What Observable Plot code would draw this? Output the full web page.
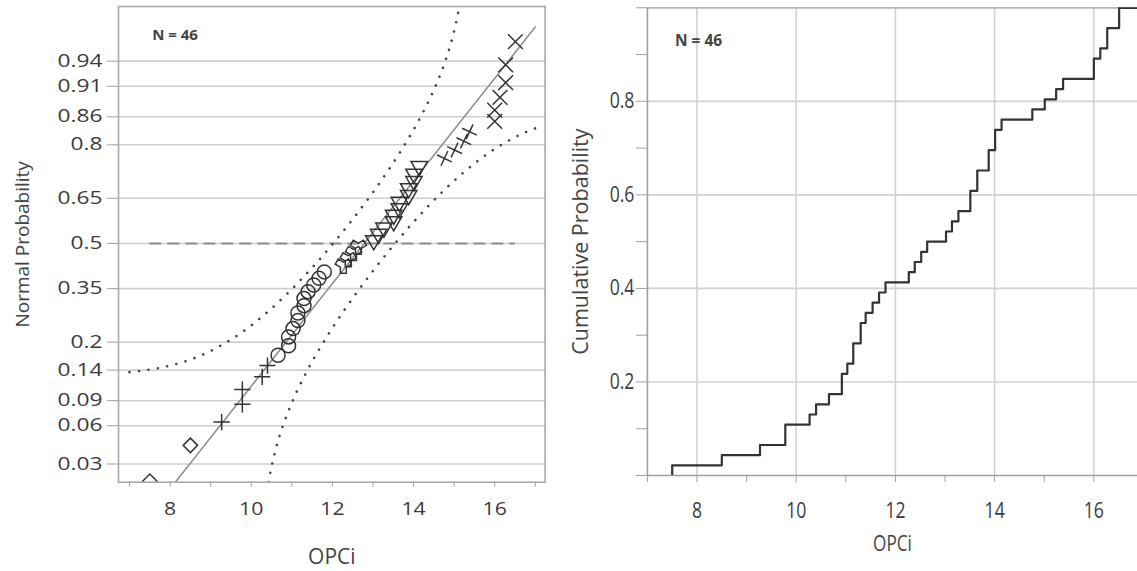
<!DOCTYPE html>
<html>
<head>
<meta charset="utf-8">
<script src="https://cdn.jsdelivr.net/npm/d3@7"></script>
<script src="https://cdn.jsdelivr.net/npm/@observablehq/plot@0.6"></script>
<style>
  html, body { margin: 0; padding: 0; background: #fff; }
  #wrap { display: flex; width: 1137px; height: 571px; overflow: hidden; }
  #wrap svg { display: block; }
</style>
</head>
<body>
<div id="wrap"><div id="left"></div><div id="right"></div></div>
<script>
// ---------- data ----------
const opci = [7.5, 8.5, 9.27, 9.78, 9.78, 10.27, 10.40, 10.66, 10.92, 10.92,
  11.03, 11.15, 11.15, 11.30, 11.30, 11.40, 11.54, 11.67, 11.80, 12.27,
  12.39, 12.52, 12.64, 13.02, 13.14, 13.27, 13.51, 13.51, 13.65, 13.65,
  13.88, 13.88, 14.01, 14.01, 14.14, 14.76, 15.01, 15.24, 15.38, 16.0,
  16.0, 16.13, 16.27, 16.27, 16.51, 16.51];
const groupKeys = ["diamond", "plus", "circle", "wye", "triangle", "tiltplus", "times"];
const groupSizes = [2, 5, 12, 4, 12, 4, 7];
const probTicks = [0.03, 0.06, 0.09, 0.14, 0.2, 0.35, 0.5, 0.65, 0.8, 0.86, 0.91, 0.94];
const cumTicks = [0.2, 0.4, 0.6, 0.8];
const cumMinor = [0, 0.1, 0.3, 0.5, 0.7, 0.9, 1];
const xTicks = [8, 10, 12, 14, 16];
const xMinor = [7, 9, 11, 13, 15, 17];
const xTitle = "OPCi";
const leftTitle = "Normal Probability";
const rightTitle = "Cumulative Probability";

// ---------- helpers ----------
function probit(p) {
  const a = [-3.969683028665376e+01, 2.209460984245205e+02, -2.759285104469687e+02, 1.383577518672690e+02, -3.066479806614716e+01, 2.506628277459239e+00];
  const b = [-5.447609879822406e+01, 1.615858368580409e+02, -1.556989798598866e+02, 6.680131188771972e+01, -1.328068155288572e+01];
  const c = [-7.784894002430293e-03, -3.223964580411365e-01, -2.400758277161838e+00, -2.549732539343734e+00, 4.374664141464968e+00, 2.938163982698783e+00];
  const d = [7.784695709041462e-03, 3.224671290700398e-01, 2.445134137142996e+00, 3.754408661907416e+00];
  const pl = 0.02425, ph = 1 - pl;
  let q, r;
  if (p < pl) { q = Math.sqrt(-2 * Math.log(p)); return (((((c[0]*q+c[1])*q+c[2])*q+c[3])*q+c[4])*q+c[5]) / ((((d[0]*q+d[1])*q+d[2])*q+d[3])*q+1); }
  if (p <= ph) { q = p - 0.5; r = q*q; return (((((a[0]*r+a[1])*r+a[2])*r+a[3])*r+a[4])*r+a[5])*q / (((((b[0]*r+b[1])*r+b[2])*r+b[3])*r+b[4])*r+1); }
  q = Math.sqrt(-2 * Math.log(1 - p));
  return -(((((c[0]*q+c[1])*q+c[2])*q+c[3])*q+c[4])*q+c[5]) / ((((d[0]*q+d[1])*q+d[2])*q+d[3])*q+1);
}
function Phi(z) {
  const x = Math.abs(z) / Math.SQRT2;
  const t = 1 / (1 + 0.3275911 * x);
  const y = 1 - (((((1.061405429*t - 1.453152027)*t) + 1.421413741)*t - 0.284496736)*t + 0.254829592)*t*Math.exp(-x*x);
  return z >= 0 ? 0.5 * (1 + y) : 0.5 * (1 - y);
}
function stretch(svg, selector, sx) {
  svg.querySelectorAll(selector).forEach(t => {
    const tr = t.getAttribute("transform") || "";
    t.setAttribute("transform", tr + ` scale(${sx},1)`);
  });
}

// ---------- derived ----------
const n = opci.length;
const mu = d3.mean(opci), sd = d3.deviation(opci);
const groupOf = groupKeys.flatMap((k, i) => Array(groupSizes[i]).fill(k));
const rows = opci.map((v, i) => ({x: v, z: probit((i + 1) / (n + 1)), g: groupOf[i]}));
const dKS = 0.886 / Math.sqrt(n);
const xs = d3.range(7, 17.0001, 0.02);
const upper = xs.map(x => { const p = Phi((x - mu) / sd) + dKS; return {x, z: p < 1 ? probit(p) : NaN}; });
const lower = xs.map(x => { const p = Phi((x - mu) / sd) - dKS; return {x, z: p > 0 ? probit(p) : NaN}; });
const fit = [7, 17].map(x => ({x, z: (x - mu) / sd}));
const zTicks = probTicks.map(probit);
const zLabel = new Map(probTicks.map(p => [probit(p), String(p)]));

// ---------- styles ----------
const markers = {
  diamond: {symbol: "diamond2", r: 6.5, rotate: 0},
  plus: {symbol: "plus", r: 5.3, rotate: 0},
  circle: {symbol: "circle", r: 7, rotate: 0},
  wye: {symbol: "wye", r: 6.2, rotate: 0},
  triangle: {symbol: "triangle2", r: 7.8, rotate: 180},
  tiltplus: {symbol: "plus", r: 5.3, rotate: 25},
  times: {symbol: "times", r: 6.8, rotate: 0}
};
const zDomain = [-2.036, 2.021];

// ---------- left: normal probability plot ----------
const left = Plot.plot({
  width: 560, height: 571,
  marginLeft: 118, marginRight: 15.4, marginTop: 6, marginBottom: 89.3,
  style: {fontFamily: "'Open Sans', sans-serif", fontSize: "17.5px", color: "#3c3c3c", background: "#fff"},
  x: {domain: [6.728, 17.242], label: null},
  y: {domain: zDomain, label: null},
  marks: [
    Plot.gridY(zTicks, {stroke: "#cfcfcf", strokeOpacity: 1, strokeWidth: 1.6}),
    Plot.ruleY([0], {x1: d3.min(opci), x2: d3.max(opci), stroke: "#8e8e8e", strokeWidth: 2, strokeDasharray: "12,6"}),
    Plot.line(upper, {x: "x", y: "z", stroke: "#444", strokeWidth: 2.6, strokeLinecap: "round", strokeDasharray: "0.01,9.5", clip: true}),
    Plot.line(lower, {x: "x", y: "z", stroke: "#444", strokeWidth: 2.6, strokeLinecap: "round", strokeDasharray: "0.01,9.5", clip: true}),
    Plot.line(fit, {x: "x", y: "z", stroke: "#8c8c8c", strokeWidth: 1.5, clip: true}),
    ...groupKeys.map(k => Plot.dot(rows, {
      filter: d => d.g === k && d.z <= zDomain[1],
      x: "x", y: "z", symbol: markers[k].symbol, r: markers[k].r, rotate: markers[k].rotate,
      fill: "none", stroke: "#333", strokeWidth: 1.5, clip: true
    })),
    Plot.frame({stroke: "#a9a9a9", strokeWidth: 1.6}),
    Plot.axisY(zTicks, {tickFormat: z => zLabel.get(z), tickSize: 11, tickPadding: 5, stroke: "#a0a0a0", fill: "#3c3c3c"}),
    Plot.axisX(xTicks, {tickSize: 5, tickPadding: 15.5, stroke: "#a0a0a0", fill: "#3c3c3c", fontSize: 18}),
    Plot.axisX(xMinor, {tickSize: 5, tickFormat: () => "", stroke: "#a0a0a0"}),
    Plot.text(["N = 46"], {frameAnchor: "top-left", dx: 33.7, dy: 28.3, textAnchor: "start", lineAnchor: "middle", fontSize: 15, fontWeight: "bold", fill: "#444"}),
    Plot.text([xTitle], {frameAnchor: "bottom", dy: 75, textAnchor: "middle", lineAnchor: "middle", fontSize: 21, fill: "#444"}),
    Plot.text([leftTitle], {frameAnchor: "left", dx: -96, rotate: -90, textAnchor: "middle", lineAnchor: "middle", fontSize: 19, fill: "#444"})
  ]
});
stretch(left, 'g[aria-label="y-axis tick label"] text', 1.3);
stretch(left, 'g[aria-label="x-axis tick label"] text', 1.18);
document.getElementById("left").appendChild(left);

// ---------- right: empirical CDF ----------
const xRight = [7, 16.88];
const ecdf = [{x: opci[0], p: 0}, ...opci.map((v, i) => ({x: v, p: (i + 1) / n})), {x: xRight[1], p: 1}];
const right = Plot.plot({
  width: 577, height: 571,
  marginLeft: 86.9, marginRight: 0, marginTop: 7.3, marginBottom: 96,
  style: {fontFamily: "'Open Sans', sans-serif", fontSize: "22px", color: "#3c3c3c", background: "#fff"},
  x: {domain: xRight, label: null},
  y: {domain: [0, 1], label: null},
  marks: [
    Plot.gridX(xTicks, {stroke: "#d2d2d2", strokeOpacity: 1, strokeWidth: 1.6}),
    Plot.gridY(cumTicks, {stroke: "#d2d2d2", strokeOpacity: 1, strokeWidth: 1.6}),
    Plot.ruleY([1], {stroke: "#b4b4b4", strokeWidth: 1.8}),
    Plot.ruleY([0], {stroke: "#a0a0a0", strokeWidth: 1.6}),
    Plot.ruleX([xRight[0]], {y1: 0, y2: 1, stroke: "#a0a0a0", strokeWidth: 1.6}),
    Plot.axisY(cumTicks, {tickSize: 11, tickPadding: 2, stroke: "#a0a0a0", fill: "#3c3c3c"}),
    Plot.axisY(cumMinor, {tickSize: 11, tickFormat: () => "", stroke: "#a0a0a0"}),
    Plot.axisX(xTicks, {tickSize: 7, tickPadding: 20, stroke: "#a0a0a0", fill: "#3c3c3c"}),
    Plot.axisX(xMinor.filter(v => v < xRight[1]), {tickSize: 7, tickFormat: () => "", stroke: "#a0a0a0"}),
    Plot.line(ecdf, {x: "x", y: "p", curve: "step-after", stroke: "#333", strokeWidth: 2.2, clip: true}),
    Plot.text(["N = 46"], {frameAnchor: "top-left", dx: 27.5, dy: 33.4, textAnchor: "start", lineAnchor: "middle", fontSize: 15.5, fontWeight: "bold", fill: "#444"}),
    Plot.text([xTitle], {frameAnchor: "bottom", dy: 68.3, textAnchor: "middle", lineAnchor: "middle", fontSize: 22, fill: "#444"}),
    Plot.text([rightTitle], {frameAnchor: "left", dx: -65.9, rotate: -90, textAnchor: "middle", lineAnchor: "middle", fontSize: 21.5, fill: "#444"})
  ]
});
stretch(right, 'g[aria-label="y-axis tick label"] text', 0.8);
stretch(right, 'g[aria-label="x-axis tick label"] text', 0.8);
right.querySelectorAll('g[aria-label="text"] text').forEach(t => {
  if (t.textContent === xTitle) t.setAttribute("transform", (t.getAttribute("transform") || "") + " scale(0.78,1)");
});
document.getElementById("right").appendChild(right);
</script>
</body>
</html>
